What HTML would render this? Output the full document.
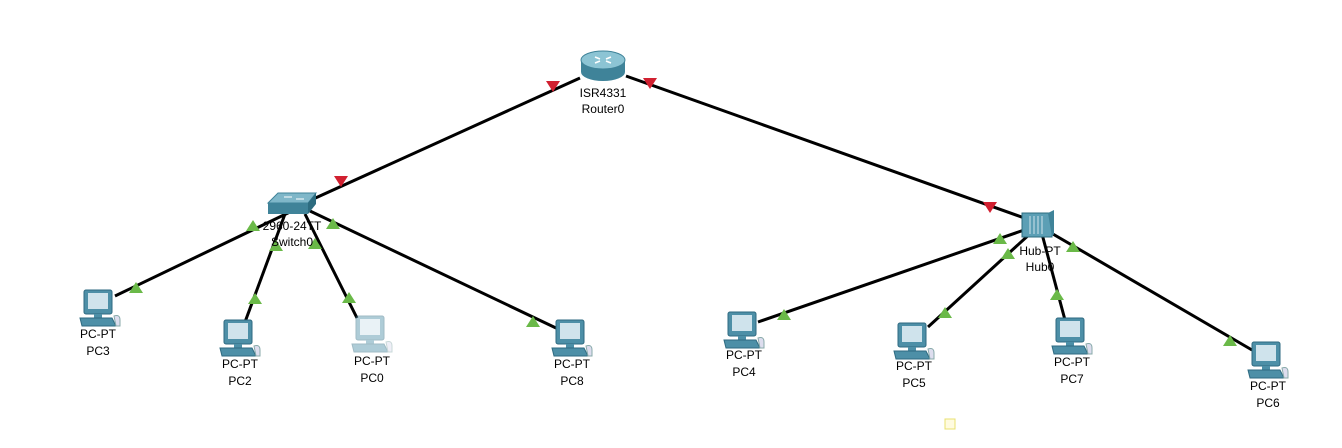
<!DOCTYPE html>
<html><head><meta charset="utf-8"><style>
body{margin:0;background:#fff;}
svg text{font-family:"Liberation Sans",Arial,sans-serif;font-size:12px;fill:#000;text-anchor:middle;}
</style></head><body>
<svg width="1342" height="443" viewBox="0 0 1342 443" xmlns="http://www.w3.org/2000/svg">
<defs>
<g id="pc">
  <rect x="-14" y="0" width="28" height="24" rx="2" fill="#4d8fa7" stroke="#2e6a80"/>
  <rect x="-10" y="3" width="20" height="16" fill="#cfe3ec"/>
  <rect x="-4" y="24" width="8" height="4" fill="#4d8fa7"/>
  <path d="M-18 28 L14 28 L18 36 L-16 36 Z" fill="#4d8fa7" stroke="#2e6a80"/>
  <path d="M16 26 q6 -2 6 4 l0 6 l-4 0 Z" fill="#dde" stroke="#8aa"/>
</g>
<g id="up"><path d="M0 -6 L7 5 L-7 5 Z" fill="#6ab948"/></g>
<g id="dn"><path d="M0 6 L7 -5 L-7 -5 Z" fill="#d12030"/></g>
</defs>
<g stroke="#000" stroke-width="3" fill="none">
<line x1="580" y1="78" x2="300" y2="205"/>
<line x1="626" y1="76" x2="1030" y2="220"/>
<line x1="290" y1="212" x2="115" y2="296"/>
<line x1="285" y1="214" x2="245" y2="322"/>
<line x1="305" y1="214" x2="357" y2="318"/>
<line x1="310" y1="211" x2="556" y2="328"/>
<line x1="1030" y1="228" x2="758" y2="322"/>
<line x1="1032" y1="232" x2="928" y2="327"/>
<line x1="1042" y1="234" x2="1065" y2="320"/>
<line x1="1046" y1="230" x2="1252" y2="350"/>
</g>
<use href="#dn" x="553" y="86"/><use href="#dn" x="341" y="181"/>
<use href="#dn" x="650" y="83"/><use href="#dn" x="990" y="207"/>
<use href="#up" x="253" y="226"/><use href="#up" x="136" y="288"/>
<use href="#up" x="276" y="246"/><use href="#up" x="255" y="299"/>
<use href="#up" x="315" y="244"/><use href="#up" x="349" y="298"/>
<use href="#up" x="333" y="224"/><use href="#up" x="533" y="322"/>
<use href="#up" x="1000" y="239"/><use href="#up" x="784" y="315"/>
<use href="#up" x="1008" y="254"/><use href="#up" x="945" y="313"/>
<use href="#up" x="1057" y="295"/>
<use href="#up" x="1073" y="247"/><use href="#up" x="1230" y="341"/>
<!-- router -->
<g>
  <path d="M581 60 L581 72 A22 9 0 0 0 625 72 L625 60 Z" fill="#3f8399"/>
  <ellipse cx="603" cy="60" rx="22" ry="9" fill="#8cc4d4" stroke="#3f8399"/>
  <path d="M595 57 l5 2 M611 57 l-5 2 M595 63 l5 -2 M611 63 l-5 -2" stroke="#fff" stroke-width="1.5"/>
</g>
<text x="603" y="97">ISR4331</text><text x="603" y="113">Router0</text>
<!-- switch -->
<g>
  <path d="M268 203 L278 193 L316 193 L308 203 Z" fill="#7fb7c9" stroke="#3f8399"/>
  <path d="M268 203 L308 203 L308 214 L268 214 Z" fill="#3f8399"/>
  <path d="M308 203 L316 193 L316 204 L308 214 Z" fill="#2d6c80"/>
  <path d="M284 197 l8 0 M296 199 l8 0" stroke="#fff"/>
</g>
<text x="292" y="230">2960-24TT</text><text x="292" y="246">Switch0</text>
<!-- hub -->
<g>
  <rect x="1022" y="213" width="30" height="24" fill="#5c9fb5" stroke="#2d6c80"/>
  <path d="M1048 213 l6 -3 l0 24 l-2 3" fill="#3f8399"/>
  <path d="M1030 216 v18 M1034 216 v18 M1038 216 v18 M1042 216 v18" stroke="#cfe3ec"/>
</g>
<text x="1040" y="255">Hub-PT</text><text x="1040" y="271">Hub0</text>
<!-- PCs -->
<use href="#pc" x="98" y="290"/><text x="98" y="338">PC-PT</text><text x="98" y="355">PC3</text>
<use href="#pc" x="238" y="320"/><text x="240" y="368">PC-PT</text><text x="240" y="385">PC2</text>
<g opacity="0.45"><use href="#pc" x="370" y="316"/></g><text x="372" y="365">PC-PT</text><text x="372" y="382">PC0</text>
<use href="#pc" x="570" y="320"/><text x="572" y="368">PC-PT</text><text x="572" y="385">PC8</text>
<use href="#pc" x="742" y="312"/><text x="744" y="359">PC-PT</text><text x="744" y="376">PC4</text>
<use href="#pc" x="912" y="323"/><text x="914" y="370">PC-PT</text><text x="914" y="387">PC5</text>
<use href="#pc" x="1070" y="318"/><text x="1072" y="366">PC-PT</text><text x="1072" y="383">PC7</text>
<use href="#pc" x="1266" y="342"/><text x="1268" y="390">PC-PT</text><text x="1268" y="407">PC6</text>
<rect x="945" y="419" width="10" height="10" fill="#fffbe0" stroke="#e8e070"/>
</svg>
</body></html>
